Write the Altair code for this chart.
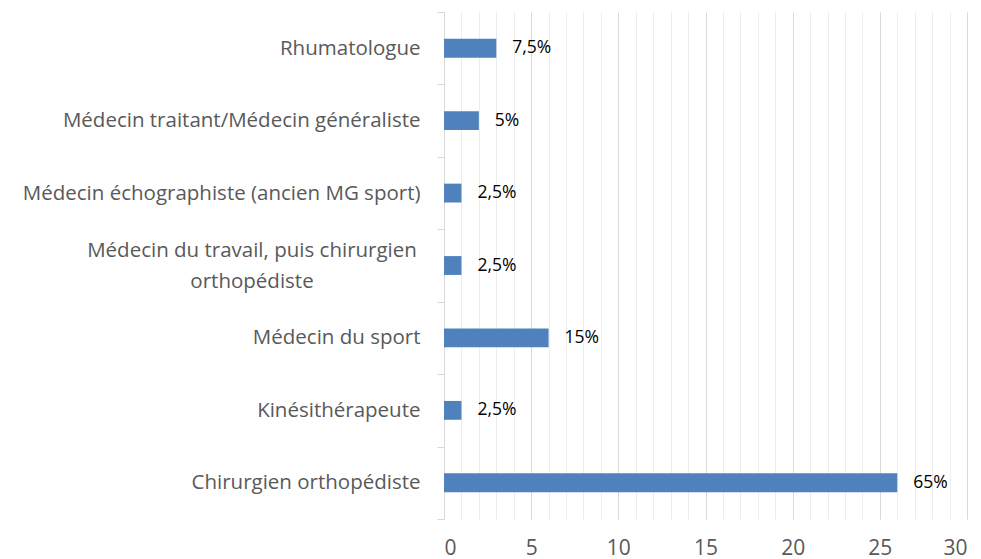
import altair as alt
import pandas as pd

categories = [
    "Rhumatologue",
    "Médecin traitant/Médecin généraliste",
    "Médecin échographiste (ancien MG sport)",
    "Médecin du travail, puis chirurgien orthopédiste",
    "Médecin du sport",
    "Kinésithérapeute",
    "Chirurgien orthopédiste",
]
counts = [3, 2, 1, 1, 6, 1, 26]
pct_labels = ["7,5%", "5%", "2,5%", "2,5%", "15%", "2,5%", "65%"]
x_ticks = list(range(0, 31))

MULTI = "Médecin du travail, puis chirurgien orthopédiste"
MULTI_LINES = ["Médecin du travail, puis chirurgien", "orthopédiste"]

df = pd.DataFrame({"cat": categories, "n": counts, "lab": pct_labels})
df_multi = pd.DataFrame({"cat": [MULTI], "txt": [MULTI_LINES]})

FONT = "Open Sans"

y_enc = alt.Y(
    "cat:N",
    sort=categories,
    title=None,
    scale=alt.Scale(paddingInner=0, paddingOuter=0),
    axis=alt.Axis(
        domainColor="#d9d9d9",
        tickColor="#d9d9d9",
        tickBand="extent",
        tickSize=7,
        labelPadding=17,
        labelFont=FONT,
        labelFontSize=20.5,
        labelColor="#595959",
        labelLimit=600,
        grid=False,
        labelOverlap=False,
        labelExpr=f"datum.value == '{MULTI}' ? '' : datum.value",
    ),
)

x_enc = alt.X(
    "n:Q",
    title=None,
    scale=alt.Scale(domain=[0, 30], nice=False),
    axis=alt.Axis(
        values=x_ticks,
        domain=False,
        ticks=False,
        labelOverlap=False,
        labelExpr="datum.value % 5 == 0 ? datum.label : ''",
        labelFont=FONT,
        labelFontSize=21,
        labelColor="#595959",
        labelPadding=18,
        gridColor={"condition": {"test": "datum.value % 5 == 0", "value": "#d9d9d9"}, "value": "#ececec"},
        gridWidth=1,
    ),
)

bars = alt.Chart(df).mark_bar(color="#4f81bd", height={"band": 0.26}).encode(x=x_enc, y=y_enc)

text = alt.Chart(df).mark_text(
    align="left", baseline="middle", dx=16, font=FONT, fontSize=17.5, color="#000000"
).encode(x=x_enc, y=y_enc, text="lab:N")

multi = alt.Chart(df_multi).mark_text(
    align="center", baseline="middle", font=FONT, fontSize=20.5, color="#595959",
    lineHeight=31, dy=-15
).encode(x=alt.value(-192), y=y_enc, text="txt")

chart = (
    alt.layer(bars, text, multi)
    .properties(
        width=523,
        height=507,
        autosize=alt.AutoSizeParams(type="none"),
        padding={"left": 436, "top": 4, "right": 6, "bottom": 40},
    )
    .configure_view(stroke=None)
)

chart.save("out.html", embed_options={"renderer": "svg", "actions": False})
